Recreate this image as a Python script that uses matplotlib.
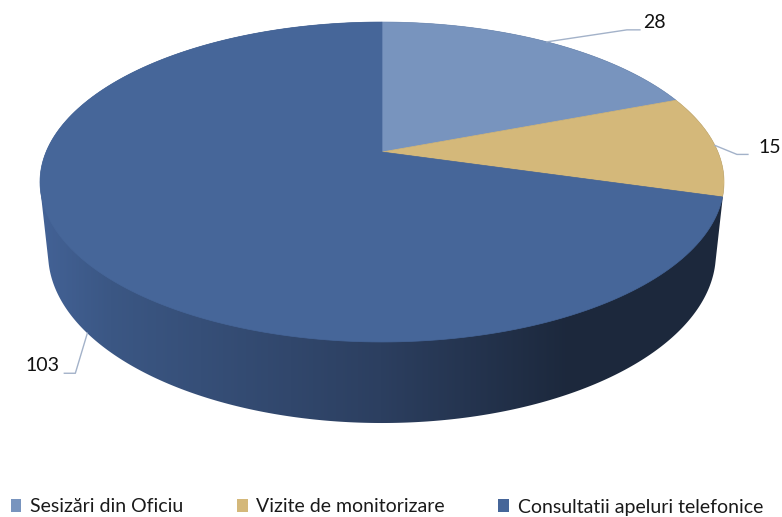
import numpy as np
import matplotlib.pyplot as plt
from matplotlib.patches import Polygon, Patch

# chart data
categories = ["Sesizări din Oficiu", "Vizite de monitorizare", "Consultatii apeluri telefonice"]
values = [28, 15, 103]
slice_colors = ["#7894be", "#d4b87a", "#466699"]

# camera / cylinder geometry (pixel space)
CX, CY = 382, 152
F, D = 1591.0, 4.736
TILT = np.radians(27.35)
DEPTH = 0.242


def project(theta, z=0.0):
    '''project a point of the unit pie disc (angle in degrees, height z) to pixels'''
    t = np.radians(theta)
    u, v = np.cos(t), np.sin(t)
    w = D + v * np.cos(TILT) - z * np.sin(TILT)
    x = CX + F * u / w
    y = CY - F * (v * np.sin(TILT) + z * np.cos(TILT)) / w
    return x, y


def hull(points):
    '''monotone chain convex hull'''
    pts = sorted(map(tuple, points))
    def cross(o, a, b):
        return (a[0] - o[0]) * (b[1] - o[1]) - (a[1] - o[1]) * (b[0] - o[0])
    lower, upper = [], []
    for p in pts:
        while len(lower) >= 2 and cross(lower[-2], lower[-1], p) <= 0:
            lower.pop()
        lower.append(p)
    for p in reversed(pts):
        while len(upper) >= 2 and cross(upper[-2], upper[-1], p) <= 0:
            upper.pop()
        upper.append(p)
    return np.array(lower[:-1] + upper[:-1])


fig = plt.figure(figsize=(7.82, 5.17), dpi=100)
ax = fig.add_axes([0, 0, 1, 1])
ax.set_xlim(0, 782)
ax.set_ylim(517, 0)
ax.axis('off')

# side wall: convex outline of top and bottom rims, filled with a horizontal gradient
ang = np.linspace(0, 360, 721)
tx, ty = project(ang, 0.0)
bx, by = project(ang, -DEPTH)
outline = hull(np.column_stack([np.r_[tx, bx], np.r_[ty, by]]))
side = Polygon(outline, closed=True, facecolor='none', edgecolor='none')
ax.add_patch(side)

stops_x = [40, 110, 380, 570, 782]
stops_c = np.array([[0x43, 0x62, 0x96], [0x3b, 0x57, 0x84], [0x2c, 0x3f, 0x60],
                    [0x1c, 0x28, 0x3c], [0x1c, 0x28, 0x3c]]) / 255.0
gx = np.arange(782)
grad = np.stack([np.interp(gx, stops_x, stops_c[:, k]) for k in range(3)], axis=-1)[None, :, :]
im = ax.imshow(grad, extent=(0, 782, 517, 0), aspect='auto', zorder=1)
im.set_clip_path(side)

# top face slices, clockwise from 12 o'clock
total = sum(values)
cum = np.cumsum([0] + values)
for i, val in enumerate(values):
    a1 = 90 - cum[i] * 360 / total
    a2 = 90 - cum[i + 1] * 360 / total
    arc = np.linspace(a1, a2, 200)
    ax_, ay_ = project(arc, 0.0)
    pts = np.column_stack([np.r_[CX, ax_], np.r_[CY, ay_]])
    ax.add_patch(Polygon(pts, closed=True, facecolor=slice_colors[i],
                         edgecolor=slice_colors[i], linewidth=0.5, zorder=2))

# data labels with leader lines
lead_col = "#a3b2c9"
label_specs = [
    # z of anchor, elbow offset, tail offset, text offset, ha
    (0.0, (80, -12), (93, -12), (96, -19), 'left'),
    (0.0, (22, 9), (33, 9), (44, 2), 'left'),
    (-DEPTH, (-12, 40), (-23, 40), (-28, 32), 'right'),
]
for i, val in enumerate(values):
    mid = 90 - (cum[i] + val / 2) * 360 / total
    z, elb, tail, toff, ha = label_specs[i]
    px, py = project(mid, z)
    ax.plot([px, px + elb[0], px + tail[0]], [py, py + elb[1], py + tail[1]],
            color=lead_col, lw=1.0, zorder=3)
    ax.text(px + toff[0], py + toff[1], str(val), ha=ha, va='center',
            fontsize=14, family='Lato', color='#111111', zorder=3)

handles = [Patch(facecolor=c, edgecolor='none') for c in slice_colors]
ax.legend(handles, categories, loc='center', bbox_to_anchor=(387 / 782, 1 - 507 / 517),
          ncol=3, frameon=False, prop={'family': 'Lato', 'size': 14},
          handlelength=0.55, handleheight=0.6, handletextpad=0.45, columnspacing=2.75,
          borderpad=0, labelcolor='#1a1a1a')

fig.savefig("out.png", dpi=100)
